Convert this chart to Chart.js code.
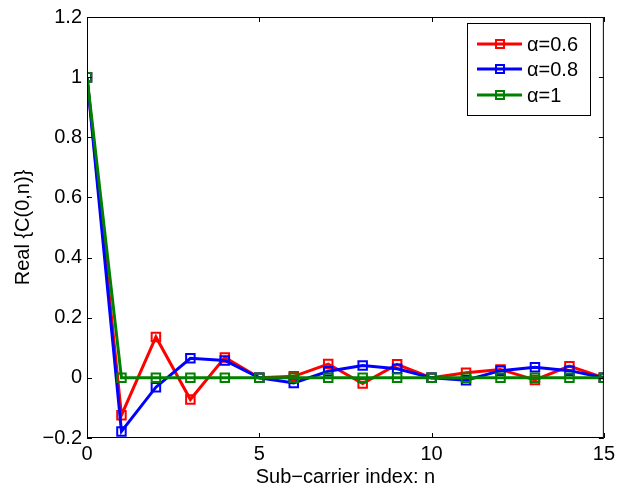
<!DOCTYPE html>
<html>
<head>
<meta charset="utf-8">
<script src="https://cdn.jsdelivr.net/npm/chart.js@4/dist/chart.umd.min.js"></script>
<style>
  html, body { margin: 0; padding: 0; background: #fff; }
  #wrap { width: 619px; height: 493px; }
</style>
</head>
<body>
<div id="wrap"><canvas id="chart"></canvas></div>
<script>
// sub-carrier index n
var subCarriers = [0, 1, 2, 3, 4, 5, 6, 7, 8, 9, 10, 11, 12, 13, 14, 15];

// Real{C(0,n)} for each roll-off
var alpha06 = [1, -0.124, 0.136, -0.072, 0.068, 0, 0.005, 0.046, -0.019, 0.045, 0, 0.017, 0.028, -0.007, 0.039, 0];
var alpha08 = [1, -0.178, -0.031, 0.065, 0.058, 0, -0.017, 0.022, 0.041, 0.030, 0, -0.008, 0.024, 0.035, 0.024, 0];
var alpha10 = [1, 0, 0, 0, 0, 0, 0, 0, 0, 0, 0, 0, 0, 0, 0, 0];

var seriesNames = ['\u03b1=0.6', '\u03b1=0.8', '\u03b1=1'];
var seriesColors = ['#ff0000', '#0000ff', '#008000'];

var xTicks = [0, 5, 10, 15];
var yTicks = [-0.2, 0, 0.2, 0.4, 0.6, 0.8, 1, 1.2];

var FONT = '"Liberation Sans", Arial, Helvetica, sans-serif';
var FSIZE = 20;

function toPoints(values) {
    return values.map(function (v, i) { return { x: subCarriers[i], y: v }; });
}

function fmt(v) {
    var r = Math.round(v * 10) / 10;
    return r < 0 ? '\u2212' + Math.abs(r) : String(r);
}

// frame, inward ticks and legend box, matlab style
var matlabFrame = {
    id: 'matlabFrame',
    afterDatasetsDraw: function (chart) {
        var ctx = chart.ctx;
        var a = chart.chartArea;
        var xs = chart.scales.x, ys = chart.scales.y;
        ctx.save();
        ctx.strokeStyle = '#000';
        ctx.lineWidth = 1;
        ctx.strokeRect(a.left + 0.5, a.top + 0.5, a.right - a.left - 1, a.bottom - a.top - 1);
        ctx.beginPath();
        xTicks.forEach(function (t) {
            var px = Math.round(xs.getPixelForValue(t)) + 0.5;
            ctx.moveTo(px, a.bottom); ctx.lineTo(px, a.bottom - 5);
            ctx.moveTo(px, a.top); ctx.lineTo(px, a.top + 5);
        });
        yTicks.forEach(function (t) {
            var py = Math.round(ys.getPixelForValue(t)) + 0.5;
            ctx.moveTo(a.left, py); ctx.lineTo(a.left + 5, py);
            ctx.moveTo(a.right, py); ctx.lineTo(a.right - 5, py);
        });
        ctx.stroke();

        // legend
        var bx = 467.5, by = 23.5, bw = 123, bh = 92;
        ctx.fillStyle = '#fff';
        ctx.fillRect(bx, by, bw, bh);
        ctx.strokeRect(bx, by, bw, bh);
        ctx.font = FSIZE + 'px ' + FONT;
        ctx.textBaseline = 'middle';
        ctx.textAlign = 'left';
        var rows = [44, 69, 95];
        seriesNames.forEach(function (name, i) {
            var y = rows[i];
            ctx.strokeStyle = seriesColors[i];
            ctx.lineWidth = 3;
            ctx.beginPath();
            ctx.moveTo(477, y); ctx.lineTo(522, y);
            ctx.stroke();
            ctx.lineWidth = 2;
            ctx.strokeRect(496, y - 4, 8, 8);
            ctx.fillStyle = '#000';
            ctx.fillText(name, 527, y + 1);
        });
        ctx.restore();
    }
};

var datasets = [alpha06, alpha08, alpha10].map(function (vals, i) {
    return {
        label: seriesNames[i],
        data: toPoints(vals),
        borderColor: seriesColors[i],
        backgroundColor: seriesColors[i],
        borderWidth: 3,
        pointStyle: 'rect',
        pointRadius: 6,
        pointBorderWidth: 2,
        pointBorderColor: seriesColors[i],
        pointBackgroundColor: 'rgba(255,255,255,0)',
        tension: 0,
        order: 3 - i
    };
});

new Chart(document.getElementById('chart'), {
    type: 'line',
    data: { datasets: datasets },
    options: {
        responsive: true,
        maintainAspectRatio: false,
        animation: false,
        events: [],
        layout: { padding: { top: 16, right: 13, left: 0, bottom: 0 } },
        plugins: {
            legend: { display: false },
            tooltip: { enabled: false }
        },
        scales: {
            x: {
                type: 'linear',
                min: 0,
                max: 15,
                afterBuildTicks: function (s) { s.ticks = xTicks.map(function (v) { return { value: v }; }); },
                afterFit: function (s) { s.height = 55; },
                grid: { display: false, drawTicks: false },
                border: { display: false },
                ticks: { color: '#000', font: { family: FONT, size: FSIZE }, padding: 4, maxRotation: 0,
                    callback: function (v) { return fmt(v); } },
                title: { display: true, text: 'Sub\u2212carrier index: n', color: '#000',
                    font: { family: FONT, size: FSIZE }, padding: { top: 0, bottom: 4 } }
            },
            y: {
                type: 'linear',
                min: -0.2,
                max: 1.2,
                afterBuildTicks: function (s) { s.ticks = yTicks.map(function (v) { return { value: v }; }); },
                afterFit: function (s) { s.width = 87; },
                grid: { display: false, drawTicks: false },
                border: { display: false },
                ticks: { color: '#000', font: { family: FONT, size: FSIZE }, padding: 5,
                    callback: function (v) { return fmt(v); } },
                title: { display: true, text: 'Real {C(0,n)}', color: '#000',
                    font: { family: FONT, size: FSIZE }, padding: { top: 11, bottom: 0 } }
            }
        }
    },
    plugins: [matlabFrame]
});
</script>
</body>
</html>
